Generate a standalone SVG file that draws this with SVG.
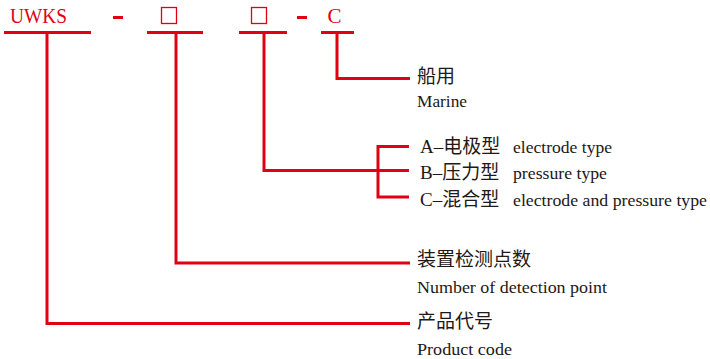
<svg xmlns="http://www.w3.org/2000/svg" width="710" height="359" viewBox="0 0 710 359">
<style>
.red{fill:#e00012;}
.code{font-family:"Liberation Serif","Noto Sans CJK SC",serif;font-size:21px;fill:#e00012;}
.ln{fill:none;stroke:#e00012;stroke-width:3;stroke-linecap:butt;stroke-linejoin:miter;}
.box{fill:none;stroke:#e00012;stroke-width:1.3;}
.zh{font-family:"Liberation Serif","Noto Sans CJK SC",serif;font-size:19px;fill:#231815;}
.en{font-family:"Liberation Serif",serif;font-size:17.5px;fill:#231815;}
</style>
<rect width="710" height="359" fill="#ffffff"/>
<g id="code-row">
  <text class="code" x="10" y="23" textLength="57" lengthAdjust="spacingAndGlyphs">UWKS</text>
  <rect class="red" x="113" y="16" width="10" height="3"/>
  <rect class="box" x="161.5" y="7.5" width="15" height="16"/>
  <rect class="box" x="251.5" y="7.5" width="15" height="16"/>
  <rect class="red" x="297" y="16" width="10" height="3"/>
  <text class="code" x="327.5" y="23">C</text>
</g>
<g id="connectors">
  <path class="ln" d="M4 32.5H91M147 32.5H203M239 32.5H287M321 32.5H354"/>
  <path class="ln" d="M337 32.5V78.5H410"/>
  <path class="ln" d="M264 32.5V170.5H409"/>
  <path class="ln" d="M409 146.5H378V197H409"/>
  <path class="ln" d="M176 32.5V263H410"/>
  <path class="ln" d="M47 32.5V323.5H410"/>
</g>
<g id="node-marine">
  <text class="zh" x="417" y="83">船用</text>
  <text class="en" x="417" y="107" textLength="50" lengthAdjust="spacingAndGlyphs">Marine</text>
</g>
<g id="node-type">
  <text class="zh" x="420" y="153">A–电极型</text>
  <text class="en" x="513" y="153" textLength="99" lengthAdjust="spacingAndGlyphs">electrode type</text>
  <text class="zh" x="420" y="179">B–压力型</text>
  <text class="en" x="513" y="179" textLength="94" lengthAdjust="spacingAndGlyphs">pressure type</text>
  <text class="zh" x="420" y="206">C–混合型</text>
  <text class="en" x="513" y="206" textLength="194" lengthAdjust="spacingAndGlyphs">electrode and pressure type</text>
</g>
<g id="node-points">
  <text class="zh" x="417" y="266">装置检测点数</text>
  <text class="en" x="417" y="293" textLength="190" lengthAdjust="spacingAndGlyphs">Number of detection point</text>
</g>
<g id="node-product">
  <text class="zh" x="417" y="328">产品代号</text>
  <text class="en" x="417" y="355" textLength="95" lengthAdjust="spacingAndGlyphs">Product code</text>
</g>
</svg>
